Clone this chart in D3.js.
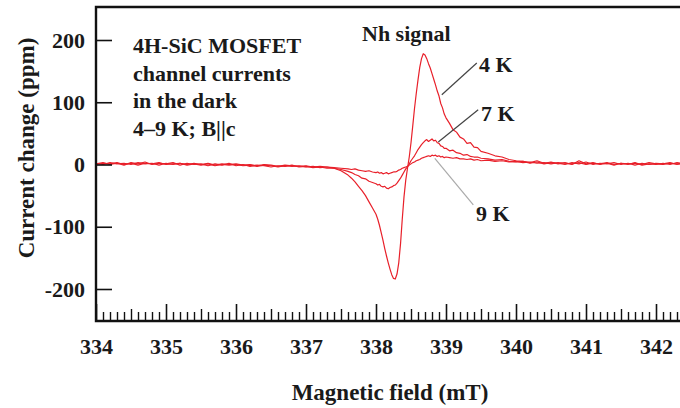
<!DOCTYPE html>
<html>
<head>
<meta charset="utf-8">
<script src="https://cdn.jsdelivr.net/npm/d3@7"></script>
<style>
  body { margin: 0; background: #fff; }
</style>
</head>
<body>
<div id="chart"></div>
<script>
// magnetic field (mT), shared by all three traces
const field = [
  334.0, 334.1, 334.2, 334.3, 334.4, 334.5, 334.6, 334.7, 334.8, 334.9,
  335.0, 335.1, 335.2, 335.3, 335.4, 335.5, 335.6, 335.7, 335.8, 335.9,
  336.0, 336.1, 336.2, 336.3, 336.4, 336.5, 336.6, 336.7, 336.8, 336.9,
  337.0, 337.1, 337.2, 337.3, 337.4, 337.5, 337.6,
  337.65, 337.7, 337.75, 337.8, 337.85, 337.9, 337.95,
  338.0, 338.025, 338.05, 338.075, 338.1, 338.125, 338.15, 338.175, 338.2, 338.225,
  338.25, 338.275, 338.3, 338.325, 338.35, 338.375, 338.4, 338.425, 338.45, 338.475,
  338.5, 338.525, 338.55, 338.575, 338.6, 338.625, 338.65, 338.675, 338.7, 338.725,
  338.75, 338.775, 338.8, 338.825, 338.85, 338.875, 338.9, 338.925, 338.95, 338.975,
  339.0,
  339.05, 339.1, 339.15, 339.2, 339.25, 339.3, 339.35, 339.4, 339.45, 339.5,
  339.6, 339.7, 339.8, 339.9, 340.0, 340.1, 340.2, 340.3, 340.4, 340.5,
  340.6, 340.7, 340.8, 340.9, 341.0, 341.1, 341.2, 341.3, 341.4, 341.5,
  341.6, 341.7, 341.8, 341.9, 342.0, 342.1, 342.2, 342.3, 342.4
];

// current change (ppm)
const k4 = [
  1, 3, 0, 2, -1, 3, 1, 4, 0, 2,
  1, 3, -1, 2, 0, 1, -2, 1, -1, 2,
  -2, 0, -3, -1, -2, -4, -2, -3, -1, -4,
  -3, -5, -4, -6, -6, -10, -17,
  -22, -28, -35, -42, -50, -60, -70,
  -80, -88, -98, -110, -122, -135, -147, -158, -168, -177,
  -183, -184, -176, -158, -128, -88, -52, -25, -6, 12,
  35, 62, 90, 114, 136, 156, 170, 178, 176, 170,
  162, 155, 146, 137, 128, 118, 110, 98, 91, 81,
  75,
  66, 56, 52, 44, 41, 34, 35, 28, 27, 21,
  18, 14, 12, 8, 6, 5, 3, 6, 2, 4,
  1, 3, 0, 6, 1, 3, 0, 2, -1, 2,
  0, 3, -1, 1, 0, 2, 0, 3, 1
];

const k7 = [
  2, 0, 3, 1, 2, 0, 3, 1, 2, -1,
  2, 0, 2, -1, 1, -1, 1, -2, 0, -1,
  0, -2, -1, -3, -1, -2, -4, -2, -3, -2,
  -4, -3, -5, -4, -6, -8, -11,
  -13, -16, -18, -22, -23, -27, -29,
  -31, -33, -32, -35, -36, -35, -38, -39, -37, -36,
  -34, -33, -30, -26, -22, -17, -12, -7, -4, 1,
  6, 10, 14, 19, 24, 28, 32, 35, 38, 40,
  37, 39, 41, 38, 39, 35, 34, 30, 29, 26,
  26,
  22, 23, 19, 18, 15, 16, 13, 12, 12, 10,
  9, 7, 8, 5, 4, 5, 2, 4, 1, 3,
  2, 0, 3, 1, 4, 0, 2, 1, 3, 0,
  2, -1, 2, 0, 2, 1, 3, 0, 2
];

const k9 = [
  0, 2, 1, 3, 0, 2, -1, 2, 1, 3,
  0, 1, 2, 0, 2, 0, 2, -1, 1, 0,
  1, -1, 0, -2, 0, -1, -3, -1, -2, -3,
  -2, -4, -3, -4, -5, -6, -7,
  -8, -7, -9, -10, -11, -10, -12,
  -13, -12, -14, -13, -15, -14, -13, -15, -14, -13,
  -12, -12, -11, -9, -8, -6, -5, -4, -3, -1,
  1, 3, 4, 6, 7, 8, 10, 11, 12, 13,
  14, 13, 15, 14, 15, 13, 14, 12, 13, 11,
  12,
  11, 10, 11, 9, 9, 8, 9, 7, 8, 6,
  7, 5, 6, 4, 5, 3, 4, 2, 3, 1,
  3, 2, 1, 3, 0, 2, 1, 3, 0, 2,
  1, 2, 0, 3, 1, 0, 2, 1, 2
];

const fieldTicks = [334, 335, 336, 337, 338, 339, 340, 341, 342];
const ppmTicks = [-200, -100, 0, 100, 200];
const noteLines = ["4H-SiC MOSFET", "channel currents", "in the dark", "4\u20139 K; B||c"];

const width = 680, height = 408,
    margin = ({top: 7, right: 0, bottom: 87, left: 96});
const ink = "#1a1a1a";

let svg = d3.select("#chart").append("svg")
    .attr("width", width).attr("height", height)
    .attr("viewBox", [0, 0, width, height]);

let x = d3.scaleLinear()
    .domain([334, 342])
    .range([margin.left, 656]);

let y = d3.scaleLinear()
    .domain([-200, 200])
    .range([289, 40]);

// all text in bold serif (single family name, the renderer wants one)
const label = (sel, size) => sel
    .style("font-family", "\"Liberation Serif\"")
    .style("font-weight", "bold")
    .style("font-size", size + "px")
    .style("fill", ink);

svg.append("clipPath").attr("id", "plot")
  .append("rect")
    .attr("x", margin.left).attr("y", margin.top)
    .attr("width", width - margin.left).attr("height", height - margin.bottom - margin.top);

// traces
const red = "#e8202a";
let line = d3.line()
    .x((d, i) => x(field[i]))
    .y(d => y(d));

for (let s of [k9, k7, k4]) {
    svg.append("path")
        .attr("d", line(s))
        .attr("fill", "none")
        .attr("stroke", red)
        .attr("stroke-width", 1.2)
        .attr("stroke-linejoin", "round")
        .attr("clip-path", "url(#plot)");
}

// x axis: major, half and tenth ticks pointing inward
const xEnd = x.invert(width);
const axisY = height - margin.bottom;
const xTicks = (vals, size) => g => g
    .attr("transform", `translate(0, ${axisY})`)
    .call(d3.axisBottom(x).tickValues(vals).tickSize(-size).tickFormat(""))
    .call(g => g.select(".domain").remove())
    .call(g => g.selectAll(".tick line").attr("stroke", "#111").attr("stroke-width", 1.4));

svg.append("g").call(xTicks(d3.ticks(334, xEnd, 84).filter(v => Math.round(v * 10) % 5 !== 0), 9));
svg.append("g").call(xTicks(fieldTicks.map(v => v + 0.5).filter(v => v < xEnd), 12));
svg.append("g")
    .attr("transform", `translate(0, ${axisY})`)
    .call(d3.axisBottom(x).tickValues(fieldTicks).tickSize(-17).tickPadding(17).tickFormat(d => String(d)))
    .call(g => g.select(".domain").remove())
    .call(g => g.selectAll(".tick line").attr("stroke", "#111").attr("stroke-width", 1.6))
    .call(g => g.selectAll(".tick text").call(label, 22));

// y axis
svg.append("g")
    .attr("transform", `translate(${margin.left}, 0)`)
    .call(d3.axisLeft(y).tickValues(ppmTicks).tickSize(-16).tickPadding(11).tickFormat(d => String(d)))
    .call(g => g.select(".domain").remove())
    .call(g => g.selectAll(".tick line").attr("stroke", "#111").attr("stroke-width", 1.6))
    .call(g => g.selectAll(".tick text").call(label, 22));

// frame: left, bottom and top
svg.append("path")
    .attr("d", `M${width},${margin.top}H${margin.left}V${axisY}H${width}`)
    .attr("fill", "none")
    .attr("stroke", "#111")
    .attr("stroke-width", 2.4);

// axis titles
svg.append("text")
    .attr("x", 390).attr("y", 400)
    .attr("text-anchor", "middle")
    .call(label, 23)
    .text("Magnetic field (mT)");

svg.append("text")
    .attr("transform", "translate(34, 148) rotate(-90)")
    .attr("text-anchor", "middle")
    .call(label, 23)
    .text("Current change (ppm)");

// sample note
svg.append("g").selectAll("text")
    .data(noteLines)
    .join("text")
    .attr("x", 133)
    .attr("y", (d, i) => 53 + i * 27.7)
    .call(label, 22)
    .text(d => d);

svg.append("text")
    .attr("x", x(337.8)).attr("y", 41)
    .call(label, 22)
    .text("Nh signal");

// temperature labels with leader lines
const labels = [
    {name: "4 K", from: [338.94, 112], to: [339.44, 163], at: [339.47, 149], stroke: "#444"},
    {name: "7 K", from: [338.89, 36], to: [339.46, 88], at: [339.5, 70], stroke: "#444"},
    {name: "9 K", from: [338.84, 10], to: [339.39, -65], at: [339.43, -91], stroke: "#aaa"}
];

for (let l of labels) {
    svg.append("line")
        .attr("x1", x(l.from[0])).attr("y1", y(l.from[1]))
        .attr("x2", x(l.to[0])).attr("y2", y(l.to[1]))
        .attr("stroke", l.stroke)
        .attr("stroke-width", 1.2);
    svg.append("text")
        .attr("x", x(l.at[0])).attr("y", y(l.at[1]))
        .call(label, 22)
        .text(l.name);
}
</script>
</body>
</html>
